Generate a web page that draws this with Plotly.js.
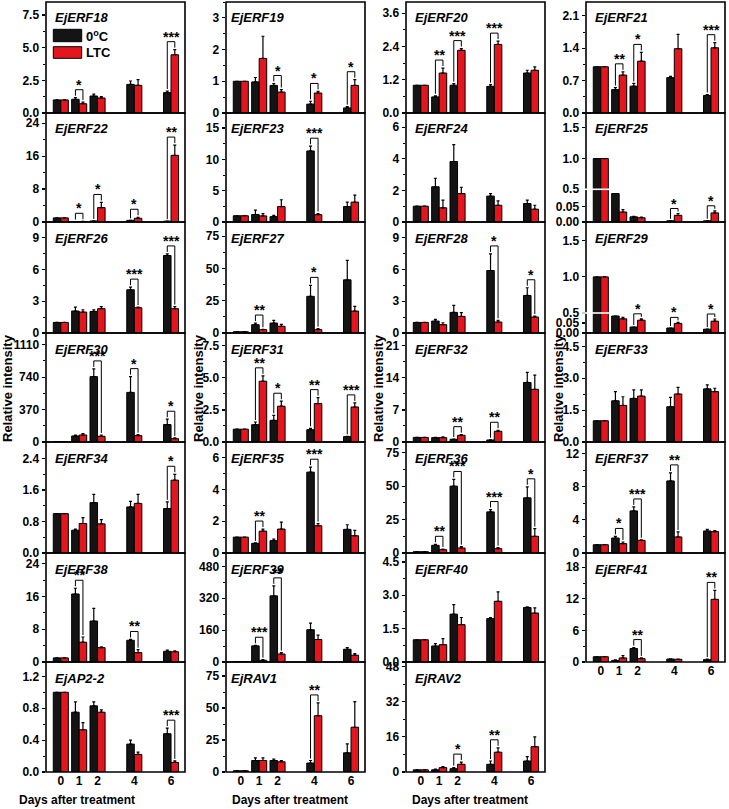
<!DOCTYPE html>
<html><head><meta charset="utf-8">
<script src="https://cdn.plot.ly/plotly-3.0.1.min.js"></script>
<style>html,body{margin:0;padding:0;background:#fff}#chart{width:729px;height:809px}</style>
</head><body><div id="chart"></div>
<script>
// ---------------- DATA ----------------
const days = [0, 1, 2, 4, 6];
const dayLabels = ['0', '1', '2', '4', '6'];
const seriesNames = ['0<sup>o</sup>C', 'LTC'];
const yLabel = 'Relative intensity';
const xLabel = 'Days after treatment';

const genes = [
  'EjERF18', 'EjERF22', 'EjERF26', 'EjERF30', 'EjERF34', 'EjERF38', 'EjAP2-2',
  'EjERF19', 'EjERF23', 'EjERF27', 'EjERF31', 'EjERF35', 'EjERF39', 'EjRAV1',
  'EjERF20', 'EjERF24', 'EjERF28', 'EjERF32', 'EjERF36', 'EjERF40', 'EjRAV2',
  'EjERF21', 'EjERF25', 'EjERF29', 'EjERF33', 'EjERF37', 'EjERF41'
];

const mean0C = [
  [1.0, 1.05, 1.3, 2.19, 1.56],
  [1.0, 0.1, 0.25, 0.4, 0.2],
  [1.0, 2.08, 2.04, 4.09, 7.33],
  [1, 69, 746, 566, 199],
  [1.0, 0.58, 1.28, 1.17, 1.13],
  [1.0, 16.6, 10.0, 5.3, 2.6],
  [1.0, 0.75, 0.83, 0.35, 0.48],
  [1.0, 0.98, 0.87, 0.28, 0.16],
  [1.0, 1.2, 0.86, 11.34, 2.47],
  [1.0, 6.4, 7.7, 28.4, 41.2],
  [1.0, 1.35, 1.69, 0.96, 0.42],
  [1.0, 0.61, 0.78, 5.1, 1.49],
  [1, 81, 332, 162, 64],
  [1, 9, 9, 7, 15],
  [1.0, 0.58, 1.0, 0.96, 1.44],
  [1.0, 2.23, 3.83, 1.64, 1.17],
  [1.0, 1.13, 1.95, 5.91, 3.55],
  [1.0, 0.95, 0.6, 0.44, 13.0],
  [1, 5.75, 50, 30.75, 41.25],
  [1.0, 0.72, 2.15, 1.95, 2.45],
  [1, 1, 1.5, 3.5, 5],
  [1.0, 0.505, 0.58, 0.765, 0.38],
  [1.0, 0.094, 0.017, 0.004, 0.004],
  [1.0, 0.085, 0.03, 0.025, 0.019],
  [1.0, 1.94, 2.05, 1.66, 2.5],
  [1.0, 1.81, 5.08, 8.7, 2.66],
  [1.0, 0.3, 2.55, 0.57, 0.45]
];

const err0C = [
  [0, 0.12, 0.15, 0.26, 0.12],
  [0, 0, 0, 0, 0],
  [0, 0.37, 0.16, 0.25, 0.15],
  [0, 11, 88, 180, 61],
  [0, 0.03, 0.21, 0.14, 0.17],
  [0, 1.4, 3.1, 0.2, 0.3],
  [0, 0.13, 0.05, 0.05, 0.07],
  [0, 0.14, 0.06, 0.09, 0.04],
  [0, 0.7, 0.21, 0.76, 0.7],
  [0, 1.3, 2.1, 8.5, 15],
  [0, 0.21, 0.39, 0.11, 0.02],
  [0, 0.03, 0.1, 0.31, 0.29],
  [0, 3, 50, 33, 8],
  [0, 2, 1, 2, 7],
  [0, 0.04, 0.06, 0.06, 0.1],
  [0, 0.54, 1.07, 0.16, 0.21],
  [0, 0.16, 0.66, 1.57, 0.73],
  [0, 0.05, 0.05, 0.05, 2.2],
  [0, 0.75, 5, 1.75, 8.25],
  [0, 0.11, 0.43, 0.05, 0.03],
  [0, 0.3, 0.5, 1.5, 2],
  [0, 0.045, 0.06, 0.025, 0.02],
  [0, 0, 0.002, 0, 0],
  [0, 0, 0, 0, 0],
  [0, 0.43, 0.4, 0.44, 0.19],
  [0, 0.19, 0.48, 0.97, 0.2],
  [0, 0.1, 0.19, 0.03, 0.1]
];

const meanLTC = [
  [1.0, 0.71, 1.15, 2.12, 4.46],
  [1.0, 0.12, 3.5, 0.9, 16.2],
  [1.0, 1.98, 2.3, 2.39, 2.3],
  [1, 80, 65, 73, 38],
  [1.0, 0.75, 0.74, 1.26, 1.85],
  [1.0, 4.83, 3.5, 2.3, 2.5],
  [1.0, 0.53, 0.75, 0.22, 0.12],
  [1.0, 1.72, 0.66, 0.63, 0.87],
  [1.0, 0.97, 2.47, 1.18, 3.17],
  [1.0, 2.6, 5.2, 2.6, 17.0],
  [1.0, 4.74, 2.79, 3.0, 2.73],
  [1.0, 1.38, 1.51, 1.72, 1.09],
  [1, 8.4, 40, 113, 34],
  [1, 9, 8, 44, 35],
  [1.0, 1.44, 2.26, 2.47, 1.54],
  [1.0, 0.9, 1.8, 1.06, 0.81],
  [1.0, 0.79, 1.57, 1.04, 1.51],
  [1.0, 0.95, 1.46, 2.34, 11.5],
  [1, 2.5, 3.75, 3.25, 12.5],
  [1.0, 0.78, 1.68, 2.73, 2.2],
  [1, 2, 3.5, 9, 11.5],
  [1.0, 0.82, 1.12, 1.39, 1.41],
  [1.0, 0.033, 0.014, 0.022, 0.03],
  [1.0, 0.071, 0.064, 0.048, 0.059],
  [1.0, 1.72, 2.16, 2.26, 2.37],
  [1.0, 1.13, 1.53, 1.94, 2.58],
  [1.0, 0.77, 0.64, 0.51, 11.9]
];

const errLTC = [
  [0, 0.13, 0.1, 0.43, 0.39],
  [0, 0.05, 1.25, 0.25, 2.5],
  [0, 0.22, 0.2, 0.06, 0.2],
  [0, 16, 15, 11, 8],
  [0, 0.15, 0.11, 0.23, 0.15],
  [0, 1.27, 0.2, 0.7, 0.2],
  [0, 0.09, 0.03, 0.03, 0.02],
  [0, 0.7, 0.08, 0.05, 0.18],
  [0, 0.38, 1.08, 0.17, 1.13],
  [0, 0.3, 1.5, 0.8, 3.6],
  [0, 0.42, 0.39, 0.46, 0.32],
  [0, 0.13, 0.44, 0.13, 0.34],
  [0, 3.6, 7, 22, 8],
  [0, 2, 1, 10, 20],
  [0, 0.18, 0.06, 0.12, 0.12],
  [0, 0.48, 0.4, 0.28, 0.25],
  [0, 0.18, 0.35, 0.16, 0.09],
  [0, 0.15, 0.14, 0.22, 3.1],
  [0, 0.5, 1, 0.75, 5.75],
  [0, 0.27, 0.32, 0.42, 0.23],
  [0, 0.5, 1, 2, 4.5],
  [0, 0.07, 0.19, 0.31, 0.11],
  [0, 0.008, 0.002, 0.006, 0.007],
  [0, 0.007, 0.007, 0.005, 0.011],
  [0, 0.41, 0.29, 0.31, 0.16],
  [0, 0.2, 0.07, 0.6, 0.12],
  [0, 0.43, 0.13, 0.03, 1.7]
];

const sig = [
  ['', '*', '', '', '***'],
  ['', '*', '*', '*', '**'],
  ['', '', '', '***', '***'],
  ['', '', '***', '*', '*'],
  ['', '', '', '', '*'],
  ['', '**', '', '**', ''],
  ['', '', '', '', '***'],
  ['', '', '*', '*', '*'],
  ['', '', '', '***', ''],
  ['', '**', '', '*', ''],
  ['', '**', '*', '**', '***'],
  ['', '**', '', '***', ''],
  ['', '***', '**', '', ''],
  ['', '', '', '**', ''],
  ['', '**', '***', '***', ''],
  ['', '', '', '', ''],
  ['', '', '', '*', '*'],
  ['', '', '**', '**', ''],
  ['', '**', '***', '***', '*'],
  ['', '', '', '', ''],
  ['', '', '*', '**', ''],
  ['', '**', '*', '', '***'],
  ['', '', '', '*', '*'],
  ['', '', '*', '*', '*'],
  ['', '', '', '', ''],
  ['', '*', '***', '**', ''],
  ['', '', '**', '', '**']
];

// ---------------- AXIS SETTINGS ----------------
const yMax  = [8.5, 26.5, 10.5, 1244, 2.82, 26.6, 1.38,
               3.5, 17.4, 86, 8.5, 7.0, 547, 86,
               4.0, 6.9, 10.5, 23.8, 83, 4.9, 50,
               2.4, null, null, 5.13, 13.4, 20.7];
const yStep = [2.5, 8, 3, 370, 0.8, 8, 0.4,
               1, 5, 25, 2.5, 2, 160, 25,
               1.2, 2, 3, 7, 25, 1.5, 16,
               0.7, null, null, 1.5, 4, 6];
const yDec  = [1, 0, 0, 0, 1, 0, 1,
               0, 0, 0, 1, 0, 0, 0,
               1, 0, 0, 0, 0, 1, 0,
               1, 2, 2, 1, 0, 0];
const splitAxes = {
  'EjERF25': {lowMax: 0.108, lowTicks: [0, 0.05], upMin: 0.4999, upMax: 1.74, upTicks: [0.5, 1.0, 1.5], breakPx: 189.3},
  'EjERF29': {lowMax: 0.1, lowTicks: [0, 0.05], upMin: 0.4999, upMax: 1.76, upTicks: [0.5, 1.0, 1.5], breakPx: 313}
};

// ---------------- LAYOUT GEOMETRY ----------------
const W = 729, H = 809;
const FONT = 'Liberation Sans, Arial, Helvetica, sans-serif';
const colLeft = [46, 226, 406, 586];
const panelW = 139;
const rowEdge = [2, 113, 222, 333, 442, 553, 662, 772];
const xRange = [-0.806, 6.76];
const titleInset = [7, 3, 7, 7];
const barW = 0.41;
const fills = ['#141414', '#e3161e'];
const tickFont = {family: FONT, size: 12, color: '#000', weight: 'bold'};

const traces = [];
const shapes = [];
const annotations = [];
const layout = {
  width: W, height: H, margin: {l: 0, r: 0, t: 0, b: 0},
  showlegend: false, paper_bgcolor: '#fff', plot_bgcolor: 'rgba(0,0,0,0)',
  barmode: 'overlay', font: {family: FONT, color: '#000'}
};

let extraAxis = genes.length + 1;

genes.forEach((gene, i) => {
  const col = Math.min(Math.floor(i / 7), 3);
  const row = i - col * 7;
  const n = i + 1;
  const xa = 'x' + n, ya = 'y' + n;
  const left = colLeft[col], right = left + panelW;
  const top = rowEdge[row], bottom = rowEdge[row + 1];
  const isBottom = row === (col < 3 ? 6 : 5);

  layout['xaxis' + n] = {
    domain: [left / W, right / W], range: xRange, anchor: ya,
    showgrid: false, zeroline: false, showline: false, ticks: '',
    showticklabels: isBottom, tickmode: 'array', tickvals: days, ticktext: dayLabels,
    tickfont: tickFont, fixedrange: true
  };

  const yBase = {
    showgrid: false, zeroline: false, showline: false, ticks: 'outside',
    ticklen: 3.5, tickwidth: 1.2, tickcolor: '#000', tickfont: tickFont,
    fixedrange: true, anchor: xa
  };
  const split = splitAxes[gene];
  let yUp = null, pxPerUnit;
  if (!split) {
    const step = yStep[i];
    layout['yaxis' + n] = Object.assign({}, yBase, {
      domain: [1 - bottom / H, 1 - top / H], range: [0, yMax[i]],
      tickmode: 'linear', tick0: 0, dtick: step, tickformat: '.' + yDec[i] + 'f',
      minor: {ticks: 'outside', ticklen: 2, tickwidth: 1, tickcolor: '#000', tick0: 0, dtick: step / 2, showgrid: false}
    });
    pxPerUnit = (bottom - top) / yMax[i];
  } else {
    const brk = split.breakPx;
    layout['yaxis' + n] = Object.assign({}, yBase, {
      domain: [1 - bottom / H, 1 - brk / H], range: [0, split.lowMax],
      tickmode: 'array', tickvals: split.lowTicks, tickformat: '.2f'
    });
    yUp = 'y' + extraAxis;
    layout['yaxis' + extraAxis] = Object.assign({}, yBase, {
      domain: [1 - brk / H, 1 - top / H], range: [split.upMin, split.upMax],
      tickmode: 'array', tickvals: split.upTicks, tickformat: '.1f'
    });
    extraAxis++;
    pxPerUnit = (bottom - brk) / split.lowMax;
  }

  const yAxes = yUp ? [ya, yUp] : [ya];
  const series = [[mean0C[i], err0C[i], -barW], [meanLTC[i], errLTC[i], 0]];
  yAxes.forEach(yax => {
    series.forEach((s, k) => {
      traces.push({
        type: 'bar', x: days, y: s[0], xaxis: xa, yaxis: yax, name: seriesNames[k],
        width: barW, offset: s[2],
        marker: {color: fills[k], line: {color: '#000', width: 1}},
        error_y: {type: 'data', symmetric: false, array: s[1], arrayminus: s[1].map(() => 0),
                  color: '#000', thickness: 1.2, width: 1.5},
        hoverinfo: 'skip', showlegend: false
      });
    });
  });

  // significance brackets
  const bx = [], by = [];
  const u = 1 / pxPerUnit;
  sig[i].forEach((s, k) => {
    if (!s) return;
    const d = days[k];
    const bTop = mean0C[i][k] + err0C[i][k];
    const rTop = meanLTC[i][k] + errLTC[i][k];
    const lvl = Math.max(bTop, rTop) + (split ? 5 : 8) * u;
    bx.push(d - barW / 2, d - barW / 2, d + barW / 2, d + barW / 2, null);
    by.push(bTop + 2 * u, lvl, lvl, rTop + 2 * u, null);
    annotations.push({
      xref: xa, yref: ya, x: d, y: lvl, text: '<b>' + s + '</b>', showarrow: false,
      yanchor: 'bottom', yshift: -5, font: {family: FONT, size: 14, color: '#000'}
    });
  });
  if (bx.length) {
    traces.push({type: 'scatter', mode: 'lines', x: bx, y: by, xaxis: xa, yaxis: ya,
                 line: {color: '#000', width: 1}, hoverinfo: 'skip', showlegend: false});
  }

  // panel border
  shapes.push({type: 'rect', xref: 'paper', yref: 'paper', x0: left / W, x1: right / W,
               y0: 1 - bottom / H, y1: 1 - top / H, line: {color: '#000', width: 1.6}, layer: 'above'});
  if (split) {
    shapes.push({type: 'line', xref: 'paper', yref: 'paper', x0: (left - 6) / W, x1: (left + 23) / W,
                 y0: 1 - split.breakPx / H, y1: 1 - split.breakPx / H, line: {color: '#fff', width: 1.6}, layer: 'above'});
  }

  // panel title
  annotations.push({
    xref: 'paper', yref: 'paper', x: (left + titleInset[col]) / W, y: 1 - (top + 16) / H,
    xanchor: 'left', yanchor: 'middle', text: '<b><i>' + gene + '</i></b>', showarrow: false,
    font: {family: FONT, size: 13, color: '#000'}
  });
});

// legend (inside first panel)
const legendBoxes = [[29.3, 41.7], [46.7, 58.3]];
legendBoxes.forEach((b, k) => {
  shapes.push({type: 'rect', xref: 'paper', yref: 'paper', x0: 53.3 / W, x1: 81.7 / W,
               y0: 1 - b[1] / H, y1: 1 - b[0] / H, fillcolor: fills[k], line: {color: '#000', width: 1}, layer: 'above'});
  annotations.push({xref: 'paper', yref: 'paper', x: 84 / W, y: 1 - ((b[0] + b[1]) / 2) / H,
                    xanchor: 'left', yanchor: 'middle', text: '<b>' + seriesNames[k] + '</b>', showarrow: false,
                    font: {family: FONT, size: 13, color: '#000'}});
});

// axis titles
[7, 198, 378, 558].forEach(xc => {
  annotations.push({xref: 'paper', yref: 'paper', x: xc / W, y: 1 - 388 / H, textangle: -90,
                    xanchor: 'center', yanchor: 'middle', text: '<b>' + yLabel + '</b>', showarrow: false,
                    font: {family: FONT, size: 13, color: '#000'}});
});
[77, 290, 470].forEach(xc => {
  annotations.push({xref: 'paper', yref: 'paper', x: xc / W, y: 1 - 800 / H,
                    xanchor: 'center', yanchor: 'middle', text: '<b>' + xLabel + '</b>', showarrow: false,
                    font: {family: FONT, size: 12, color: '#000'}});
});

layout.shapes = shapes;
layout.annotations = annotations;

Plotly.newPlot('chart', traces, layout, {staticPlot: true, displayModeBar: false});
</script>
</body></html>
